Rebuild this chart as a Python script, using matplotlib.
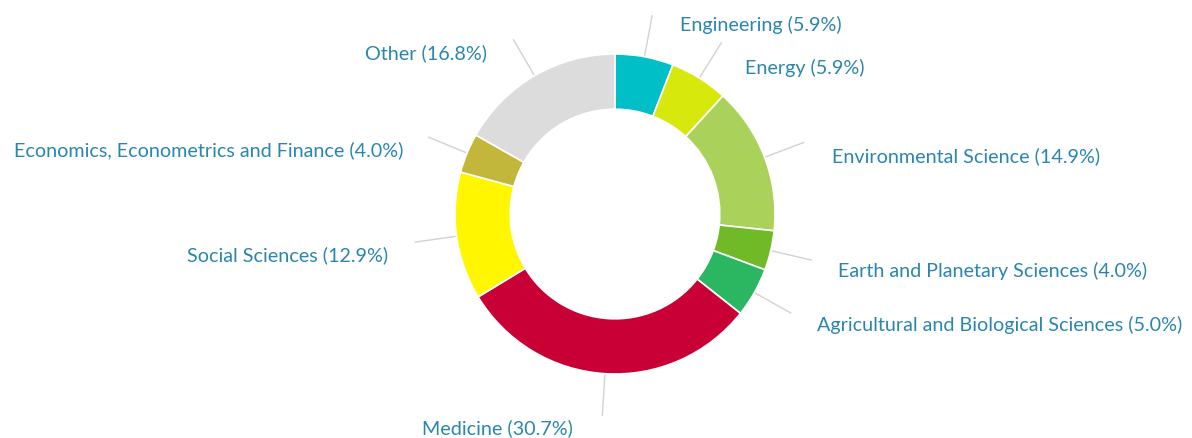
import numpy as np
import matplotlib
matplotlib.use("Agg")
import matplotlib.pyplot as plt

# data
subjects = ["Engineering", "Energy", "Environmental Science",
            "Earth and Planetary Sciences", "Agricultural and Biological Sciences",
            "Medicine", "Social Sciences", "Economics, Econometrics and Finance",
            "Other"]
shares = [5.9, 5.9, 14.9, 4.0, 5.0, 30.7, 12.9, 4.0, 16.8]
colors = ["#00bfc6", "#d6e80c", "#aad159", "#70ba28", "#2bb662",
          "#c90035", "#fff600", "#c2b73a", "#dcdcdc"]

# label placement (pixel coords of the canvas), ha
label_pos = [(680, 25, "left"), (745, 68, "left"), (832, 156, "left"),
             (838, 271, "left"), (817, 325, "left"), (573, 428, "right"),
             (388, 255, "right"), (403, 150, "right"), (487, 53, "right")]

W, H = 1192, 439
cx, cy, R = 615, 215, 160
text_col = "#2a86b0"

fig = plt.figure(figsize=(W / 100, H / 100), dpi=100)
ax = fig.add_axes([0, 0, 1, 1])

# y axis is flipped below, so start at -90 and go counterclockwise in data
# coords -> clockwise from 12 o'clock on screen
wedges, _ = ax.pie(shares, colors=colors, startangle=-90, counterclock=True,
                   center=(cx, cy), radius=R,
                   wedgeprops=dict(width=R * 0.345, edgecolor="white", linewidth=1.2))
ax.set_xlim(0, W)
ax.set_ylim(H, 0)
ax.set_aspect("equal")
ax.axis("off")

for w, name, val, (tx, ty, ha) in zip(wedges, subjects, shares, label_pos):
    ang = np.deg2rad((w.theta1 + w.theta2) / 2)
    x0 = cx + R * np.cos(ang)
    y0 = cy + R * np.sin(ang)
    x1 = cx + R * 1.26 * np.cos(ang)
    y1 = cy + R * 1.26 * np.sin(ang)
    ax.plot([x0, x1], [y0, y1], color="#d2d2d2", lw=1.0, zorder=0)
    ax.text(tx, ty, f"{name} ({val:.1f}%)", ha=ha, va="center",
            color=text_col, fontsize=14.2, family="Lato")

fig.savefig("out.png", dpi=100)
